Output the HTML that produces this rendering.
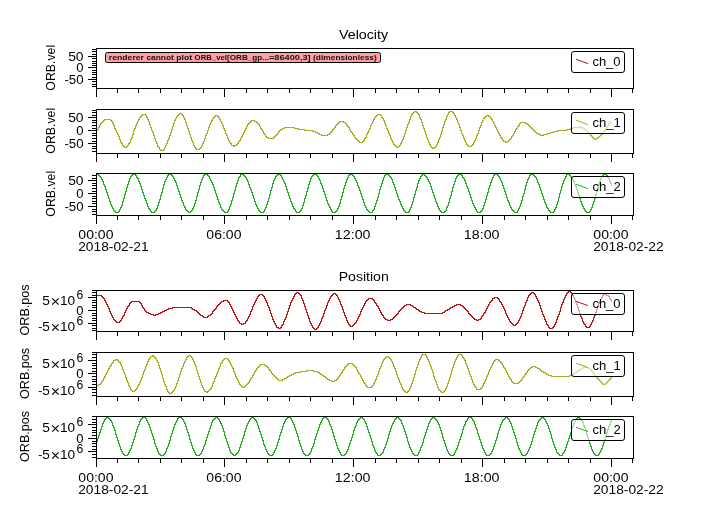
<!DOCTYPE html>
<html><head><meta charset="utf-8"><style>
html,body{margin:0;padding:0;background:#fff;width:717px;height:509px;overflow:hidden}
svg{display:block;font-family:"Liberation Sans",sans-serif;will-change:transform}
</style></head><body>
<svg width="717" height="509" viewBox="0 0 717 509" font-family="Liberation Sans, sans-serif" fill="#000">
<rect width="717" height="509" fill="#fff"/>
<text transform="translate(339.03 39.00) scale(1.1122 1)" font-size="12.8" >Velocity</text>
<text transform="translate(338.67 281.00) scale(1.1020 1)" font-size="12.8" >Position</text>
<rect x="96.5" y="48.5" width="537" height="40" fill="none" stroke="#000" stroke-width="1"/>
<path d="M92 86.5H96M92 84.5H96M92 81.5H96M88 79.5H96M92 77.5H96M92 74.5H96M92 72.5H96M92 70.5H96M88 67.5H96M92 65.5H96M92 63.5H96M92 61.5H96M92 58.5H96M88 56.5H96M92 54.5H96M92 51.5H96M92 49.5H96M96.5 89V97M117.5 89V93M138.5 89V93M160.5 89V93M181.5 89V93M203.5 89V93M224.5 89V97M246.5 89V93M267.5 89V93M289.5 89V93M310.5 89V93M332.5 89V93M353.5 89V97M375.5 89V93M396.5 89V93M418.5 89V93M439.5 89V93M461.5 89V93M482.5 89V97M504.5 89V93M525.5 89V93M547.5 89V93M568.5 89V93M590.5 89V93M611.5 89V97M632.5 89V93" stroke="#000" stroke-width="1" fill="none" shape-rendering="crispEdges"/>
<text transform="translate(68.14 60.90) scale(1.0932 1)" font-size="12.7" >50</text>
<text transform="translate(76.28 71.90) scale(1.0278 1)" font-size="12.7" >0</text>
<text transform="translate(64.40 83.90) scale(1.0421 1)" font-size="12.7" >-50</text>
<text transform="translate(55.20 67.90) rotate(-90) translate(-22.75 0) scale(0.9684 1)" font-size="12.7">ORB.vel</text>
<rect x="571.5" y="51.5" width="53" height="21" rx="2.5" fill="#fff" fill-opacity="0.55" stroke="#000" stroke-width="1"/>
<path d="M576 59.3L588 63.6" stroke="#b01818" stroke-width="1.0"/>
<text transform="translate(592.42 65.80) scale(1.0221 1)" font-size="12.7" >ch_0</text>
<rect x="96.5" y="109.5" width="537" height="44" fill="none" stroke="#000" stroke-width="1"/>
<path d="M92 151.5H96M92 148.5H96M92 146.5H96M88 143.5H96M92 141.5H96M92 138.5H96M92 135.5H96M92 133.5H96M88 130.5H96M92 128.5H96M92 125.5H96M92 122.5H96M92 120.5H96M88 117.5H96M92 115.5H96M92 112.5H96M92 110.5H96M96.5 154V162M117.5 154V158M138.5 154V158M160.5 154V158M181.5 154V158M203.5 154V158M224.5 154V162M246.5 154V158M267.5 154V158M289.5 154V158M310.5 154V158M332.5 154V158M353.5 154V162M375.5 154V158M396.5 154V158M418.5 154V158M439.5 154V158M461.5 154V158M482.5 154V162M504.5 154V158M525.5 154V158M547.5 154V158M568.5 154V158M590.5 154V158M611.5 154V162M632.5 154V158" stroke="#000" stroke-width="1" fill="none" shape-rendering="crispEdges"/>
<text transform="translate(68.14 121.90) scale(1.0932 1)" font-size="12.7" >50</text>
<text transform="translate(76.28 134.90) scale(1.0278 1)" font-size="12.7" >0</text>
<text transform="translate(64.40 147.90) scale(1.0421 1)" font-size="12.7" >-50</text>
<text transform="translate(55.20 130.90) rotate(-90) translate(-22.75 0) scale(0.9684 1)" font-size="12.7">ORB.vel</text>
<path d="M97.5 129V131M98.5 127V130M99.5 125V128M100.5 123V126M101.5 122V124M102.5 121V123M103.5 120V122M104.5 119V121M105.5 119V120M106.5 119V120M107.5 119V120M108.5 119V120M109.5 119V120M110.5 119V121M111.5 120V122M112.5 121V124M113.5 123V126M114.5 125V129M115.5 128V131M116.5 130V133M117.5 132V135M118.5 134V137M119.5 136V140M120.5 139V143M121.5 142V144M122.5 143V146M123.5 145V147M124.5 146V148M125.5 147V148M126.5 146V148M127.5 145V147M128.5 143V146M129.5 142V144M130.5 139V143M131.5 137V140M132.5 134V138M133.5 130V135M134.5 128V131M135.5 125V129M136.5 123V126M137.5 121V124M138.5 119V122M139.5 117V120M140.5 116V118M141.5 115V117M142.5 114V116M143.5 114V115M144.5 114V115M145.5 114V116M146.5 115V118M147.5 117V120M148.5 119V122M149.5 121V125M150.5 124V128M151.5 127V131M152.5 130V133M153.5 132V136M154.5 135V139M155.5 138V142M156.5 141V144M157.5 143V147M158.5 146V148M159.5 147V150M160.5 149V151M161.5 150V151M162.5 150V151M163.5 149V151M164.5 147V150M165.5 145V148M166.5 143V146M167.5 140V144M168.5 138V141M169.5 135V139M170.5 132V136M171.5 129V133M172.5 126V130M173.5 123V127M174.5 120V124M175.5 118V121M176.5 116V119M177.5 115V117M178.5 114V116M179.5 113V115M180.5 113V114M181.5 113V115M182.5 114V116M183.5 115V118M184.5 117V120M185.5 119V123M186.5 122V126M187.5 125V129M188.5 128V132M189.5 131V135M190.5 134V138M191.5 137V141M192.5 140V143M193.5 142V146M194.5 145V148M195.5 147V149M196.5 148V150M197.5 149V150M198.5 149V150M199.5 148V150M200.5 147V149M201.5 145V148M202.5 143V146M203.5 141V144M204.5 138V142M205.5 135V139M206.5 133V136M207.5 130V134M208.5 127V131M209.5 124V128M210.5 122V125M211.5 120V123M212.5 118V121M213.5 117V119M214.5 116V118M215.5 115V117M216.5 115V116M217.5 115V117M218.5 116V118M219.5 117V120M220.5 119V122M221.5 121V124M222.5 123V126M223.5 125V129M224.5 128V131M225.5 130V134M226.5 133V136M227.5 135V139M228.5 138V141M229.5 140V143M230.5 142V144M231.5 143V146M232.5 145V146M233.5 145V147M234.5 145V147M235.5 145V146M236.5 144V146M237.5 143V145M238.5 141V144M239.5 140V142M240.5 138V141M241.5 136V139M242.5 134V137M243.5 132V135M244.5 130V133M245.5 128V131M246.5 126V129M247.5 124V127M248.5 123V125M249.5 122V124M250.5 121V123M251.5 120V122M252.5 120V121M253.5 120V121M254.5 120V122M255.5 121V122M256.5 121V123M257.5 122V124M258.5 123V125M259.5 124V127M260.5 126V129M261.5 128V130M262.5 129V132M263.5 131V134M264.5 133V135M265.5 134V137M266.5 136V138M267.5 137V138M268.5 137V139M269.5 138V139M270.5 138V139M271.5 138V139M272.5 138V139M273.5 137V139M274.5 136V138M275.5 135V137M276.5 134V136M277.5 133V135M278.5 131V134M279.5 130V132M280.5 129V131M281.5 129V130M282.5 128V130M283.5 128V129M284.5 127V129M285.5 127V128M286.5 127V128M287.5 127V128M288.5 127V128M289.5 127V128M290.5 127V128M291.5 127V128M292.5 127V128M293.5 127V128M294.5 127V129M295.5 128V129M296.5 128V129M297.5 128V129M298.5 128V130M299.5 129V130M300.5 129V130M301.5 129V130M302.5 129V130M303.5 129V130M304.5 129V131M305.5 130V131M306.5 130V131M307.5 130V131M308.5 130V131M309.5 130V131M310.5 130V131M311.5 130V131M312.5 130V132M313.5 131V132M314.5 131V132M315.5 131V133M316.5 132V133M317.5 132V134M318.5 133V134M319.5 133V135M320.5 134V135M321.5 134V136M322.5 135V136M323.5 135V136M324.5 135V136M325.5 135V136M326.5 135V136M327.5 134V136M328.5 134V135M329.5 133V135M330.5 132V134M331.5 131V133M332.5 129V132M333.5 128V130M334.5 127V129M335.5 125V128M336.5 124V126M337.5 123V125M338.5 122V124M339.5 121V123M340.5 121V122M341.5 121V122M342.5 121V122M343.5 121V123M344.5 122V123M345.5 122V124M346.5 123V126M347.5 125V127M348.5 126V128M349.5 127V130M350.5 129V132M351.5 131V133M352.5 132V135M353.5 134V136M354.5 135V138M355.5 137V139M356.5 138V140M357.5 139V141M358.5 140V142M359.5 141V143M360.5 142V143M361.5 142V143M362.5 141V143M363.5 140V142M364.5 138V141M365.5 137V139M366.5 134V138M367.5 132V135M368.5 130V133M369.5 128V131M370.5 125V129M371.5 123V126M372.5 121V124M373.5 119V122M374.5 117V120M375.5 116V118M376.5 115V117M377.5 114V116M378.5 114V115M379.5 114V115M380.5 114V116M381.5 115V118M382.5 117V119M383.5 118V121M384.5 120V124M385.5 123V126M386.5 125V129M387.5 128V131M388.5 130V134M389.5 133V136M390.5 135V139M391.5 138V141M392.5 140V143M393.5 142V145M394.5 144V146M395.5 145V147M396.5 146V148M397.5 147V148M398.5 146V148M399.5 145V147M400.5 143V146M401.5 141V144M402.5 139V142M403.5 136V140M404.5 133V137M405.5 130V134M406.5 127V131M407.5 124V128M408.5 122V125M409.5 119V123M410.5 116V120M411.5 114V117M412.5 113V115M413.5 112V114M414.5 111V113M415.5 111V112M416.5 111V113M417.5 112V114M418.5 113V115M419.5 114V118M420.5 117V120M421.5 119V123M422.5 122V126M423.5 125V129M424.5 128V132M425.5 131V135M426.5 134V138M427.5 137V140M428.5 139V143M429.5 142V145M430.5 144V147M431.5 146V148M432.5 147V149M433.5 148V149M434.5 147V149M435.5 146V148M436.5 144V147M437.5 142V145M438.5 139V143M439.5 137V140M440.5 134V138M441.5 131V135M442.5 127V132M443.5 124V128M444.5 121V125M445.5 119V122M446.5 116V120M447.5 114V117M448.5 112V115M449.5 111V113M450.5 111V112M451.5 111V112M452.5 111V113M453.5 112V114M454.5 113V116M455.5 115V118M456.5 117V120M457.5 119V123M458.5 122V125M459.5 124V128M460.5 127V131M461.5 130V134M462.5 133V136M463.5 135V139M464.5 138V141M465.5 140V143M466.5 142V145M467.5 144V146M468.5 145V147M469.5 146V147M470.5 146V147M471.5 145V147M472.5 144V146M473.5 142V145M474.5 140V143M475.5 138V141M476.5 135V139M477.5 133V136M478.5 130V134M479.5 127V131M480.5 125V128M481.5 122V126M482.5 120V123M483.5 118V121M484.5 117V119M485.5 116V118M486.5 115V117M487.5 115V116M488.5 115V117M489.5 116V117M490.5 116V119M491.5 118V120M492.5 119V122M493.5 121V124M494.5 123V126M495.5 125V128M496.5 127V130M497.5 129V132M498.5 131V134M499.5 133V136M500.5 135V138M501.5 137V139M502.5 138V141M503.5 140V142M504.5 141V142M505.5 141V143M506.5 142V143M507.5 141V143M508.5 140V142M509.5 139V141M510.5 138V140M511.5 136V139M512.5 135V137M513.5 133V136M514.5 131V134M515.5 129V132M516.5 128V130M517.5 126V129M518.5 125V127M519.5 123V126M520.5 122V124M521.5 122V123M522.5 122V123M523.5 122V123M524.5 122V123M525.5 122V124M526.5 123V124M527.5 123V125M528.5 124V126M529.5 125V127M530.5 126V128M531.5 127V129M532.5 128V130M533.5 129V131M534.5 130V132M535.5 131V133M536.5 132V134M537.5 133V134M538.5 133V135M539.5 134V135M540.5 134V136M541.5 135V136M542.5 135V136M543.5 134V136M544.5 134V135M545.5 134V135M546.5 134V135M547.5 133V135M548.5 133V134M549.5 133V134M550.5 132V134M551.5 132V133M552.5 132V133M553.5 131V133M554.5 131V132M555.5 131V132M556.5 131V132M557.5 130V132M558.5 130V131M559.5 130V131M560.5 130V131M561.5 130V131M562.5 130V131M563.5 130V131M564.5 130V131M565.5 130V131M566.5 129V131M567.5 129V130M568.5 129V130M569.5 129V130M570.5 128V130M571.5 128V129M572.5 127V129M573.5 127V128" stroke="#aaaa1c" stroke-width="1" fill="none" shape-rendering="crispEdges"/>
<path d="M573.10 127.60 L582.00 127.30 L587.60 131.60 L594.50 139.20 L596.40 139.20 L602.60 133.80 L611.50 121.00" stroke="#aaaa1c" stroke-width="1.3" fill="none" stroke-linejoin="round"/>
<rect x="571.5" y="112.5" width="53" height="21" rx="2.5" fill="#fff" fill-opacity="0.55" stroke="#000" stroke-width="1"/>
<path d="M576 120.3L588 124.6" stroke="#aaaa1c" stroke-width="1.0"/>
<text transform="translate(592.41 126.80) scale(1.0270 1)" font-size="12.7" >ch_1</text>
<rect x="96.5" y="173.5" width="537" height="42" fill="none" stroke="#000" stroke-width="1"/>
<path d="M92 214.5H96M92 211.5H96M92 209.5H96M88 206.5H96M92 203.5H96M92 201.5H96M92 198.5H96M92 196.5H96M88 193.5H96M92 191.5H96M92 188.5H96M92 185.5H96M92 183.5H96M88 180.5H96M92 178.5H96M92 175.5H96M96.5 216V224M117.5 216V220M138.5 216V220M160.5 216V220M181.5 216V220M203.5 216V220M224.5 216V224M246.5 216V220M267.5 216V220M289.5 216V220M310.5 216V220M332.5 216V220M353.5 216V224M375.5 216V220M396.5 216V220M418.5 216V220M439.5 216V220M461.5 216V220M482.5 216V224M504.5 216V220M525.5 216V220M547.5 216V220M568.5 216V220M590.5 216V220M611.5 216V224M632.5 216V220" stroke="#000" stroke-width="1" fill="none" shape-rendering="crispEdges"/>
<text transform="translate(68.14 184.90) scale(1.0932 1)" font-size="12.7" >50</text>
<text transform="translate(76.28 197.90) scale(1.0278 1)" font-size="12.7" >0</text>
<text transform="translate(64.40 210.90) scale(1.0421 1)" font-size="12.7" >-50</text>
<text transform="translate(55.20 193.90) rotate(-90) translate(-22.75 0) scale(0.9684 1)" font-size="12.7">ORB.vel</text>
<path d="M97.5 174V175M98.5 174V176M99.5 175V177M100.5 176V178M101.5 177V180M102.5 179V182M103.5 181V185M104.5 184V187M105.5 186V190M106.5 189V193M107.5 192V196M108.5 195V199M109.5 198V202M110.5 201V205M111.5 204V207M112.5 206V209M113.5 208V211M114.5 210V212M115.5 211V213M116.5 212V213M117.5 212V213M118.5 211V213M119.5 209V212M120.5 207V210M121.5 205V208M122.5 201V206M123.5 198V202M124.5 194V199M125.5 191V195M126.5 187V192M127.5 184V188M128.5 181V185M129.5 178V182M130.5 176V179M131.5 175V177M132.5 174V176M133.5 174V175M134.5 174V175M135.5 174V176M136.5 175V178M137.5 177V179M138.5 178V182M139.5 181V184M140.5 183V187M141.5 186V190M142.5 189V193M143.5 192V196M144.5 195V199M145.5 198V201M146.5 200V204M147.5 203V207M148.5 206V209M149.5 208V210M150.5 209V212M151.5 211V213M152.5 212V213M153.5 212V213M154.5 211V213M155.5 210V212M156.5 208V211M157.5 205V209M158.5 202V206M159.5 199V203M160.5 195V200M161.5 192V196M162.5 188V193M163.5 184V189M164.5 181V185M165.5 179V182M166.5 177V180M167.5 175V178M168.5 174V176M169.5 174V175M170.5 174V175M171.5 174V176M172.5 175V177M173.5 176V179M174.5 178V181M175.5 180V183M176.5 182V186M177.5 185V189M178.5 188V192M179.5 191V195M180.5 194V198M181.5 197V201M182.5 200V203M183.5 202V206M184.5 205V208M185.5 207V210M186.5 209V211M187.5 210V212M188.5 211V213M189.5 212V213M190.5 211V213M191.5 210V212M192.5 208V211M193.5 206V209M194.5 203V207M195.5 200V204M196.5 196V201M197.5 192V197M198.5 189V193M199.5 185V190M200.5 182V186M201.5 179V183M202.5 177V180M203.5 175V178M204.5 174V176M205.5 174V175M206.5 174V175M207.5 174V176M208.5 175V177M209.5 176V179M210.5 178V181M211.5 180V183M212.5 182V185M213.5 184V188M214.5 187V191M215.5 190V194M216.5 193V197M217.5 196V200M218.5 199V203M219.5 202V205M220.5 204V208M221.5 207V210M222.5 209V211M223.5 210V212M224.5 211V213M225.5 212V213M226.5 212V213M227.5 211V213M228.5 209V212M229.5 206V210M230.5 204V207M231.5 200V205M232.5 197V201M233.5 193V198M234.5 190V194M235.5 186V191M236.5 183V187M237.5 180V184M238.5 177V181M239.5 176V178M240.5 174V177M241.5 174V175M242.5 174V175M243.5 174V176M244.5 175V177M245.5 176V178M246.5 177V180M247.5 179V182M248.5 181V185M249.5 184V188M250.5 187V190M251.5 189V193M252.5 192V196M253.5 195V199M254.5 198V202M255.5 201V205M256.5 204V207M257.5 206V209M258.5 208V211M259.5 210V212M260.5 211V213M261.5 212V213M262.5 212V213M263.5 211V213M264.5 209V212M265.5 207V210M266.5 204V208M267.5 201V205M268.5 198V202M269.5 194V199M270.5 190V195M271.5 187V191M272.5 183V188M273.5 180V184M274.5 178V181M275.5 176V179M276.5 175V177M277.5 174V176M278.5 174V175M279.5 174V175M280.5 174V176M281.5 175V178M282.5 177V180M283.5 179V182M284.5 181V184M285.5 183V187M286.5 186V190M287.5 189V193M288.5 192V196M289.5 195V199M290.5 198V202M291.5 201V204M292.5 203V207M293.5 206V209M294.5 208V210M295.5 209V212M296.5 211V213M297.5 212V213M298.5 212V213M299.5 211V213M300.5 210V212M301.5 208V211M302.5 205V209M303.5 202V206M304.5 198V203M305.5 195V199M306.5 191V196M307.5 188V192M308.5 184V189M309.5 181V185M310.5 178V182M311.5 176V179M312.5 175V177M313.5 174V176M314.5 174V175M315.5 174V175M316.5 174V176M317.5 175V177M318.5 176V179M319.5 178V181M320.5 180V184M321.5 183V186M322.5 185V189M323.5 188V192M324.5 191V195M325.5 194V198M326.5 197V201M327.5 200V204M328.5 203V206M329.5 205V208M330.5 207V210M331.5 209V212M332.5 211V213M333.5 212V213M334.5 212V213M335.5 211V213M336.5 210V212M337.5 208V211M338.5 206V209M339.5 203V207M340.5 199V204M341.5 196V200M342.5 192V197M343.5 188V193M344.5 185V189M345.5 182V186M346.5 179V183M347.5 177V180M348.5 175V178M349.5 174V176M350.5 174V175M351.5 174V175M352.5 174V176M353.5 175V177M354.5 176V179M355.5 178V181M356.5 180V183M357.5 182V186M358.5 185V188M359.5 187V191M360.5 190V194M361.5 193V197M362.5 196V200M363.5 199V203M364.5 202V206M365.5 205V208M366.5 207V210M367.5 209V211M368.5 210V212M369.5 211V213M370.5 212V213M371.5 212V213M372.5 210V213M373.5 209V211M374.5 206V210M375.5 203V207M376.5 200V204M377.5 197V201M378.5 193V198M379.5 189V194M380.5 186V190M381.5 183V187M382.5 180V184M383.5 177V181M384.5 175V178M385.5 174V176M386.5 174V175M387.5 174V175M388.5 174V176M389.5 175V177M390.5 176V178M391.5 177V180M392.5 179V183M393.5 182V185M394.5 184V188M395.5 187V191M396.5 190V194M397.5 193V197M398.5 196V200M399.5 199V202M400.5 201V205M401.5 204V207M402.5 206V209M403.5 208V211M404.5 210V212M405.5 211V213M406.5 212V213M407.5 212V213M408.5 211V213M409.5 209V212M410.5 207V210M411.5 204V208M412.5 201V205M413.5 197V202M414.5 194V198M415.5 190V195M416.5 187V191M417.5 183V188M418.5 180V184M419.5 178V181M420.5 176V179M421.5 175V177M422.5 174V176M423.5 174V175M424.5 174V176M425.5 175V177M426.5 176V178M427.5 177V180M428.5 179V182M429.5 181V184M430.5 183V187M431.5 186V190M432.5 189V193M433.5 192V196M434.5 195V199M435.5 198V202M436.5 201V204M437.5 203V207M438.5 206V209M439.5 208V211M440.5 210V212M441.5 211V213M442.5 212V213M443.5 212V213M444.5 211V213M445.5 210V212M446.5 207V211M447.5 205V208M448.5 202V206M449.5 198V203M450.5 195V199M451.5 191V196M452.5 187V192M453.5 184V188M454.5 181V185M455.5 178V182M456.5 176V179M457.5 175V177M458.5 174V176M459.5 174V175M460.5 174V175M461.5 174V176M462.5 175V178M463.5 177V179M464.5 178V181M465.5 180V184M466.5 183V187M467.5 186V189M468.5 188V192M469.5 191V195M470.5 194V198M471.5 197V201M472.5 200V204M473.5 203V206M474.5 205V208M475.5 207V210M476.5 209V212M477.5 211V213M478.5 212V213M479.5 212V213M480.5 211V213M481.5 210V212M482.5 208V211M483.5 205V209M484.5 202V206M485.5 199V203M486.5 195V200M487.5 192V196M488.5 188V193M489.5 185V189M490.5 182V186M491.5 179V183M492.5 177V180M493.5 175V178M494.5 174V176M495.5 174V175M496.5 174V175M497.5 174V176M498.5 175V177M499.5 176V179M500.5 178V181M501.5 180V183M502.5 182V186M503.5 185V189M504.5 188V192M505.5 191V195M506.5 194V198M507.5 197V201M508.5 200V203M509.5 202V206M510.5 205V208M511.5 207V210M512.5 209V211M513.5 210V212M514.5 211V213M515.5 212V213M516.5 212V213M517.5 210V213M518.5 208V211M519.5 206V209M520.5 203V207M521.5 200V204M522.5 196V201M523.5 193V197M524.5 189V194M525.5 185V190M526.5 182V186M527.5 179V183M528.5 177V180M529.5 175V178M530.5 174V176M531.5 174V175M532.5 174V175M533.5 174V176M534.5 175V177M535.5 176V178M536.5 177V180M537.5 179V183M538.5 182V185M539.5 184V188M540.5 187V191M541.5 190V194M542.5 193V197M543.5 196V200M544.5 199V203M545.5 202V205M546.5 204V208M547.5 207V209M548.5 208V211M549.5 210V212M550.5 211V213M551.5 212V213M552.5 212V213M553.5 211V213M554.5 209V212M555.5 207V210M556.5 204V208M557.5 201V205M558.5 197V202M559.5 193V198M560.5 190V194M561.5 186V191M562.5 183V187M563.5 180V184M564.5 178V181M565.5 176V179M566.5 174V177M567.5 174V175M568.5 174V175M569.5 174V176M570.5 175V177M571.5 176V178M572.5 177V180M573.5 179V182M574.5 181V185M575.5 184V187M576.5 186V190M577.5 189V193M578.5 192V196M579.5 195V199M580.5 198V202M581.5 201V205M582.5 204V207M583.5 206V209M584.5 208V211M585.5 210V212M586.5 211V213M587.5 212V213M588.5 212V213M589.5 211V213M590.5 209V212M591.5 207V210M592.5 204V208M593.5 201V205M594.5 198V202M595.5 194V199M596.5 191V195M597.5 187V192M598.5 184V188M599.5 181V185M600.5 178V182M601.5 176V179M602.5 175V177M603.5 174V176M604.5 174V175M605.5 174V175M606.5 174V176M607.5 175V178M608.5 177V179M609.5 178V182M610.5 181V184M611.5 183V186" stroke="#20aa20" stroke-width="1" fill="none" shape-rendering="crispEdges"/>
<rect x="571.5" y="176.5" width="53" height="21" rx="2.5" fill="#fff" fill-opacity="0.55" stroke="#000" stroke-width="1"/>
<path d="M576 184.3L588 188.6" stroke="#20aa20" stroke-width="1.0"/>
<text transform="translate(592.41 190.80) scale(1.0270 1)" font-size="12.7" >ch_2</text>
<rect x="96.5" y="290.5" width="537" height="41" fill="none" stroke="#000" stroke-width="1"/>
<path d="M92 330.5H96M92 328.5H96M92 325.5H96M88 323.5H96M92 320.5H96M92 318.5H96M92 315.5H96M92 313.5H96M88 310.5H96M92 307.5H96M92 305.5H96M92 302.5H96M92 300.5H96M88 297.5H96M92 295.5H96M92 292.5H96M92 290.5H96M96.5 332V340M117.5 332V336M138.5 332V336M160.5 332V336M181.5 332V336M203.5 332V336M224.5 332V340M246.5 332V336M267.5 332V336M289.5 332V336M310.5 332V336M332.5 332V336M353.5 332V340M375.5 332V336M396.5 332V336M418.5 332V336M439.5 332V336M461.5 332V336M482.5 332V340M504.5 332V336M525.5 332V336M547.5 332V336M568.5 332V336M590.5 332V336M611.5 332V340M632.5 332V336" stroke="#000" stroke-width="1" fill="none" shape-rendering="crispEdges"/>
<text transform="translate(59.97 304.80) scale(1.0762 1)" font-size="12.7" >10</text>
<path d="M52.20 298.30L58.60 304.60M52.20 304.60L58.60 298.30" stroke="#000" stroke-width="1.15" fill="none"/>
<text transform="translate(42.15 304.80) scale(1.0775 1)" font-size="12.7" >5</text>
<text transform="translate(76.39 298.60) scale(0.9979 1)" font-size="12.2" >6</text>
<text transform="translate(76.28 314.90) scale(1.0278 1)" font-size="12.7" >0</text>
<text transform="translate(59.97 330.80) scale(1.0762 1)" font-size="12.7" >10</text>
<path d="M52.20 324.30L58.60 330.60M52.20 330.60L58.60 324.30" stroke="#000" stroke-width="1.15" fill="none"/>
<text transform="translate(42.15 330.80) scale(1.0775 1)" font-size="12.7" >5</text>
<text transform="translate(38.35 330.80) scale(0.9642 1)" font-size="12.7" >-</text>
<text transform="translate(76.39 324.60) scale(0.9979 1)" font-size="12.2" >6</text>
<text transform="translate(28.90 309.90) rotate(-90) translate(-25.57 0) scale(0.9904 1)" font-size="12.7">ORB.pos</text>
<path d="M97.5 295V296M98.5 295V296M99.5 295V296M100.5 295V296M101.5 295V297M102.5 296V298M103.5 297V299M104.5 298V301M105.5 300V303M106.5 302V305M107.5 304V307M108.5 306V309M109.5 308V312M110.5 311V314M111.5 313V316M112.5 315V318M113.5 317V320M114.5 319V321M115.5 320V322M116.5 321V323M117.5 322V323M118.5 322V323M119.5 321V323M120.5 320V322M121.5 318V321M122.5 316V319M123.5 315V317M124.5 312V316M125.5 310V313M126.5 308V311M127.5 306V309M128.5 305V307M129.5 303V306M130.5 302V304M131.5 301V303M132.5 301V302M133.5 301V302M134.5 301V302M135.5 301V302M136.5 301V302M137.5 301V302M138.5 301V302M139.5 301V303M140.5 302V304M141.5 303V306M142.5 305V308M143.5 307V309M144.5 308V311M145.5 310V312M146.5 311V313M147.5 312V313M148.5 312V314M149.5 313V314M150.5 313V315M151.5 314V315M152.5 314V315M153.5 314V316M154.5 315V316M155.5 314V316M156.5 314V315M157.5 314V315M158.5 313V315M159.5 313V314M160.5 312V314M161.5 312V313M162.5 311V313M163.5 311V312M164.5 310V312M165.5 310V311M166.5 309V311M167.5 309V310M168.5 308V310M169.5 308V309M170.5 308V309M171.5 308V309M172.5 307V309M173.5 307V308M174.5 307V308M175.5 307V308M176.5 307V308M177.5 307V308M178.5 307V308M179.5 307V308M180.5 307V308M181.5 307V308M182.5 307V308M183.5 307V308M184.5 307V308M185.5 307V308M186.5 307V308M187.5 307V308M188.5 307V308M189.5 307V308M190.5 307V308M191.5 307V309M192.5 308V310M193.5 309V310M194.5 309V311M195.5 310V311M196.5 310V312M197.5 311V313M198.5 312V314M199.5 313V315M200.5 314V316M201.5 315V316M202.5 315V317M203.5 316V318M204.5 317V318M205.5 317V318M206.5 317V318M207.5 316V318M208.5 315V317M209.5 315V316M210.5 314V316M211.5 313V315M212.5 311V314M213.5 310V312M214.5 309V311M215.5 308V310M216.5 306V309M217.5 305V307M218.5 304V306M219.5 303V305M220.5 302V304M221.5 301V303M222.5 301V302M223.5 300V302M224.5 300V301M225.5 300V301M226.5 300V301M227.5 300V302M228.5 301V303M229.5 302V305M230.5 304V307M231.5 306V309M232.5 308V311M233.5 310V313M234.5 312V315M235.5 314V317M236.5 316V319M237.5 318V321M238.5 320V322M239.5 321V324M240.5 323V324M241.5 323V325M242.5 324V325M243.5 323V325M244.5 323V324M245.5 321V324M246.5 320V322M247.5 318V321M248.5 316V319M249.5 314V317M250.5 311V315M251.5 309V312M252.5 306V310M253.5 304V307M254.5 302V305M255.5 300V303M256.5 298V301M257.5 296V299M258.5 295V297M259.5 294V296M260.5 294V295M261.5 294V295M262.5 294V296M263.5 295V297M264.5 296V299M265.5 298V301M266.5 300V303M267.5 302V306M268.5 305V308M269.5 307V311M270.5 310V314M271.5 313V317M272.5 316V320M273.5 319V322M274.5 321V324M275.5 323V326M276.5 325V328M277.5 327V328M278.5 327V329M279.5 328V329M280.5 327V329M281.5 325V328M282.5 324V326M283.5 321V325M284.5 319V322M285.5 317V320M286.5 314V318M287.5 311V315M288.5 308V312M289.5 305V309M290.5 302V306M291.5 300V303M292.5 298V301M293.5 296V299M294.5 294V297M295.5 293V295M296.5 292V294M297.5 292V293M298.5 292V294M299.5 293V295M300.5 294V296M301.5 295V299M302.5 298V301M303.5 300V304M304.5 303V307M305.5 306V310M306.5 309V313M307.5 312V316M308.5 315V319M309.5 318V322M310.5 321V324M311.5 323V326M312.5 325V328M313.5 327V329M314.5 328V330M315.5 329V330M316.5 328V330M317.5 327V329M318.5 325V328M319.5 323V326M320.5 321V324M321.5 318V322M322.5 316V319M323.5 313V317M324.5 310V314M325.5 308V311M326.5 305V309M327.5 302V306M328.5 300V303M329.5 298V301M330.5 296V299M331.5 295V297M332.5 294V296M333.5 293V295M334.5 293V294M335.5 293V295M336.5 294V296M337.5 295V298M338.5 297V300M339.5 299V302M340.5 301V305M341.5 304V307M342.5 306V310M343.5 309V313M344.5 312V316M345.5 315V318M346.5 317V321M347.5 320V323M348.5 322V325M349.5 324V326M350.5 325V327M351.5 326V327M352.5 325V327M353.5 324V326M354.5 323V325M355.5 322V324M356.5 320V323M357.5 318V321M358.5 316V319M359.5 314V317M360.5 311V315M361.5 309V312M362.5 307V310M363.5 305V308M364.5 303V306M365.5 301V304M366.5 300V302M367.5 299V301M368.5 298V300M369.5 298V299M370.5 298V299M371.5 298V299M372.5 298V300M373.5 299V301M374.5 300V303M375.5 302V304M376.5 303V306M377.5 305V307M378.5 306V309M379.5 308V311M380.5 310V313M381.5 312V315M382.5 314V316M383.5 315V318M384.5 317V319M385.5 318V320M386.5 319V320M387.5 319V321M388.5 320V321M389.5 320V321M390.5 319V321M391.5 319V320M392.5 318V320M393.5 317V319M394.5 316V318M395.5 315V317M396.5 314V316M397.5 313V315M398.5 311V314M399.5 310V312M400.5 309V311M401.5 308V310M402.5 307V309M403.5 306V308M404.5 305V307M405.5 305V306M406.5 304V306M407.5 304V305M408.5 304V305M409.5 304V305M410.5 304V306M411.5 305V306M412.5 305V307M413.5 306V308M414.5 307V308M415.5 307V309M416.5 308V310M417.5 309V310M418.5 309V311M419.5 310V312M420.5 311V312M421.5 311V313M422.5 312V313M423.5 312V313M424.5 312V314M425.5 313V314M426.5 313V314M427.5 313V314M428.5 313V314M429.5 313V314M430.5 313V314M431.5 313V314M432.5 313V314M433.5 313V314M434.5 313V314M435.5 313V314M436.5 313V314M437.5 313V314M438.5 313V314M439.5 313V314M440.5 313V314M441.5 313V314M442.5 312V314M443.5 312V313M444.5 311V313M445.5 310V312M446.5 310V311M447.5 309V311M448.5 309V310M449.5 308V310M450.5 307V309M451.5 307V308M452.5 306V308M453.5 306V307M454.5 305V307M455.5 305V306M456.5 304V306M457.5 304V305M458.5 304V305M459.5 304V305M460.5 304V306M461.5 305V306M462.5 305V307M463.5 306V308M464.5 307V309M465.5 308V310M466.5 309V311M467.5 310V312M468.5 311V314M469.5 313V315M470.5 314V316M471.5 315V317M472.5 316V318M473.5 317V319M474.5 318V320M475.5 319V320M476.5 319V321M477.5 320V321M478.5 319V321M479.5 319V320M480.5 318V320M481.5 316V319M482.5 315V317M483.5 313V316M484.5 312V314M485.5 310V313M486.5 308V311M487.5 306V309M488.5 304V307M489.5 302V305M490.5 301V303M491.5 300V302M492.5 298V301M493.5 298V299M494.5 297V299M495.5 297V298M496.5 297V298M497.5 297V299M498.5 298V300M499.5 299V302M500.5 301V303M501.5 302V305M502.5 304V307M503.5 306V309M504.5 308V311M505.5 310V314M506.5 313V316M507.5 315V318M508.5 317V320M509.5 319V322M510.5 321V323M511.5 322V324M512.5 323V325M513.5 324V326M514.5 325V326M515.5 324V326M516.5 323V325M517.5 322V324M518.5 320V323M519.5 318V321M520.5 316V319M521.5 313V317M522.5 310V314M523.5 307V311M524.5 305V308M525.5 302V306M526.5 300V303M527.5 297V301M528.5 295V298M529.5 294V296M530.5 293V295M531.5 292V294M532.5 292V293M533.5 292V294M534.5 293V295M535.5 294V297M536.5 296V299M537.5 298V301M538.5 300V303M539.5 302V306M540.5 305V309M541.5 308V312M542.5 311V315M543.5 314V317M544.5 316V320M545.5 319V322M546.5 321V325M547.5 324V326M548.5 325V328M549.5 327V329M550.5 328V329M551.5 328V329M552.5 327V329M553.5 326V328M554.5 324V327M555.5 322V325M556.5 319V323M557.5 316V320M558.5 314V317M559.5 311V315M560.5 307V312M561.5 304V308M562.5 302V305M563.5 299V303M564.5 297V300M565.5 295V298M566.5 293V296M567.5 292V294M568.5 291V293M569.5 291V292M570.5 291V293M571.5 292V294M572.5 293V296M573.5 295V298M574.5 297V300M575.5 299V303M576.5 302V305M577.5 304V308M578.5 307V311M579.5 310V314M580.5 313V317M581.5 316V319M582.5 318V322M583.5 321V324M584.5 323V325M585.5 324V327M586.5 326V328M587.5 327V328M588.5 327V328M589.5 326V328M590.5 324V327M591.5 322V325M592.5 320V323M593.5 317V321M594.5 315V318M595.5 312V316M596.5 309V313M597.5 306V310M598.5 303V307M599.5 301V304M600.5 299V302M601.5 297V300M602.5 295V298M603.5 294V296M604.5 294V295M605.5 294V295M606.5 294V296M607.5 295V296M608.5 295V297M609.5 296V299M610.5 298V300M611.5 299V302" stroke="#b01818" stroke-width="1" fill="none" shape-rendering="crispEdges"/>
<rect x="571.5" y="293.5" width="53" height="21" rx="2.5" fill="#fff" fill-opacity="0.55" stroke="#000" stroke-width="1"/>
<path d="M576 301.3L588 305.6" stroke="#b01818" stroke-width="1.0"/>
<text transform="translate(592.42 307.80) scale(1.0221 1)" font-size="12.7" >ch_0</text>
<rect x="96.5" y="352.5" width="537" height="44" fill="none" stroke="#000" stroke-width="1"/>
<path d="M92 395.5H96M92 392.5H96M92 389.5H96M88 387.5H96M92 384.5H96M92 381.5H96M92 379.5H96M92 376.5H96M88 373.5H96M92 371.5H96M92 368.5H96M92 365.5H96M92 363.5H96M88 360.5H96M92 357.5H96M92 354.5H96M92 352.5H96M96.5 397V405M117.5 397V401M138.5 397V401M160.5 397V401M181.5 397V401M203.5 397V401M224.5 397V405M246.5 397V401M267.5 397V401M289.5 397V401M310.5 397V401M332.5 397V401M353.5 397V405M375.5 397V401M396.5 397V401M418.5 397V401M439.5 397V401M461.5 397V401M482.5 397V405M504.5 397V401M525.5 397V401M547.5 397V401M568.5 397V401M590.5 397V401M611.5 397V405M632.5 397V401" stroke="#000" stroke-width="1" fill="none" shape-rendering="crispEdges"/>
<text transform="translate(59.97 367.80) scale(1.0762 1)" font-size="12.7" >10</text>
<path d="M52.20 361.30L58.60 367.60M52.20 367.60L58.60 361.30" stroke="#000" stroke-width="1.15" fill="none"/>
<text transform="translate(42.15 367.80) scale(1.0775 1)" font-size="12.7" >5</text>
<text transform="translate(76.39 361.60) scale(0.9979 1)" font-size="12.2" >6</text>
<text transform="translate(76.28 377.90) scale(1.0278 1)" font-size="12.7" >0</text>
<text transform="translate(59.97 394.80) scale(1.0762 1)" font-size="12.7" >10</text>
<path d="M52.20 388.30L58.60 394.60M52.20 394.60L58.60 388.30" stroke="#000" stroke-width="1.15" fill="none"/>
<text transform="translate(42.15 394.80) scale(1.0775 1)" font-size="12.7" >5</text>
<text transform="translate(38.35 394.80) scale(0.9642 1)" font-size="12.7" >-</text>
<text transform="translate(76.39 388.60) scale(0.9979 1)" font-size="12.2" >6</text>
<text transform="translate(28.90 373.40) rotate(-90) translate(-25.57 0) scale(0.9904 1)" font-size="12.7">ORB.pos</text>
<path d="M97.5 385V386M98.5 384V386M99.5 384V385M100.5 383V385M101.5 381V384M102.5 380V382M103.5 378V381M104.5 376V379M105.5 374V377M106.5 372V375M107.5 370V373M108.5 368V371M109.5 366V369M110.5 365V367M111.5 363V366M112.5 362V364M113.5 360V363M114.5 360V361M115.5 359V361M116.5 359V360M117.5 359V361M118.5 360V362M119.5 361V363M120.5 362V365M121.5 364V367M122.5 366V370M123.5 369V373M124.5 372V375M125.5 374V378M126.5 377V381M127.5 380V383M128.5 382V386M129.5 385V388M130.5 387V390M131.5 389V391M132.5 390V392M133.5 391V392M134.5 390V392M135.5 389V391M136.5 388V390M137.5 386V389M138.5 384V387M139.5 382V385M140.5 380V383M141.5 377V381M142.5 374V378M143.5 371V375M144.5 369V372M145.5 366V370M146.5 364V367M147.5 361V365M148.5 359V362M149.5 358V360M150.5 356V359M151.5 356V357M152.5 355V357M153.5 355V357M154.5 356V358M155.5 357V359M156.5 358V361M157.5 360V363M158.5 362V366M159.5 365V369M160.5 368V372M161.5 371V375M162.5 374V379M163.5 378V382M164.5 381V385M165.5 384V387M166.5 386V390M167.5 389V392M168.5 391V393M169.5 392V394M170.5 393V394M171.5 392V394M172.5 391V393M173.5 390V392M174.5 388V391M175.5 386V389M176.5 383V387M177.5 380V384M178.5 377V381M179.5 374V378M180.5 371V375M181.5 368V372M182.5 366V369M183.5 363V367M184.5 361V364M185.5 359V362M186.5 357V360M187.5 356V358M188.5 355V357M189.5 355V356M190.5 355V357M191.5 356V358M192.5 357V360M193.5 359V362M194.5 361V365M195.5 364V367M196.5 366V371M197.5 370V374M198.5 373V377M199.5 376V380M200.5 379V383M201.5 382V386M202.5 385V388M203.5 387V390M204.5 389V392M205.5 391V392M206.5 391V393M207.5 391V393M208.5 390V392M209.5 389V391M210.5 388V390M211.5 386V389M212.5 383V387M213.5 381V384M214.5 378V382M215.5 376V379M216.5 373V377M217.5 371V374M218.5 368V372M219.5 366V369M220.5 363V367M221.5 362V364M222.5 360V363M223.5 359V361M224.5 358V360M225.5 358V359M226.5 358V359M227.5 358V360M228.5 359V361M229.5 360V363M230.5 362V365M231.5 364V367M232.5 366V369M233.5 368V372M234.5 371V374M235.5 373V377M236.5 376V379M237.5 378V381M238.5 380V383M239.5 382V385M240.5 384V386M241.5 385V387M242.5 386V388M243.5 387V388M244.5 386V388M245.5 385V387M246.5 384V386M247.5 383V385M248.5 382V384M249.5 380V383M250.5 378V381M251.5 377V379M252.5 375V378M253.5 373V376M254.5 371V374M255.5 370V372M256.5 368V371M257.5 367V369M258.5 366V368M259.5 365V367M260.5 364V366M261.5 364V365M262.5 364V365M263.5 364V365M264.5 364V366M265.5 365V366M266.5 365V367M267.5 366V368M268.5 367V370M269.5 369V371M270.5 370V372M271.5 371V374M272.5 373V375M273.5 374V376M274.5 375V377M275.5 376V378M276.5 377V379M277.5 378V380M278.5 379V381M279.5 380V381M280.5 380V381M281.5 380V381M282.5 379V381M283.5 379V380M284.5 378V380M285.5 378V379M286.5 377V379M287.5 376V378M288.5 376V377M289.5 375V377M290.5 375V376M291.5 374V376M292.5 374V375M293.5 373V375M294.5 373V374M295.5 372V374M296.5 372V373M297.5 372V373M298.5 372V373M299.5 372V373M300.5 371V373M301.5 371V372M302.5 371V372M303.5 371V372M304.5 371V372M305.5 371V372M306.5 370V372M307.5 370V371M308.5 370V371M309.5 370V371M310.5 370V371M311.5 370V371M312.5 370V371M313.5 370V372M314.5 371V372M315.5 371V372M316.5 371V372M317.5 371V373M318.5 372V373M319.5 372V374M320.5 373V375M321.5 374V375M322.5 374V376M323.5 375V377M324.5 376V377M325.5 376V378M326.5 377V379M327.5 378V380M328.5 379V380M329.5 379V381M330.5 380V381M331.5 380V382M332.5 381V382M333.5 381V382M334.5 380V382M335.5 380V381M336.5 379V381M337.5 378V380M338.5 376V379M339.5 375V377M340.5 373V376M341.5 372V374M342.5 370V373M343.5 369V371M344.5 367V370M345.5 366V368M346.5 365V367M347.5 364V366M348.5 363V365M349.5 363V364M350.5 363V364M351.5 363V364M352.5 363V365M353.5 364V366M354.5 365V367M355.5 366V368M356.5 367V370M357.5 369V372M358.5 371V374M359.5 373V375M360.5 374V377M361.5 376V379M362.5 378V381M363.5 380V383M364.5 382V384M365.5 383V386M366.5 385V387M367.5 386V388M368.5 387V388M369.5 387V388M370.5 387V388M371.5 386V388M372.5 385V387M373.5 383V386M374.5 381V384M375.5 379V382M376.5 376V380M377.5 374V377M378.5 371V375M379.5 368V372M380.5 366V369M381.5 363V367M382.5 361V364M383.5 359V362M384.5 358V360M385.5 357V359M386.5 356V358M387.5 356V357M388.5 356V358M389.5 357V359M390.5 358V360M391.5 359V362M392.5 361V364M393.5 363V367M394.5 366V369M395.5 368V372M396.5 371V375M397.5 374V378M398.5 377V380M399.5 379V383M400.5 382V385M401.5 384V388M402.5 387V390M403.5 389V391M404.5 390V392M405.5 391V393M406.5 392V393M407.5 391V393M408.5 390V392M409.5 388V391M410.5 386V389M411.5 383V387M412.5 380V384M413.5 377V381M414.5 374V378M415.5 370V375M416.5 367V371M417.5 364V368M418.5 361V365M419.5 359V362M420.5 357V360M421.5 355V358M422.5 354V356M423.5 354V355M424.5 354V355M425.5 354V356M426.5 355V358M427.5 357V360M428.5 359V362M429.5 361V365M430.5 364V367M431.5 366V370M432.5 369V373M433.5 372V377M434.5 376V380M435.5 379V382M436.5 381V385M437.5 384V388M438.5 387V390M439.5 389V391M440.5 390V392M441.5 391V393M442.5 392V393M443.5 391V393M444.5 390V392M445.5 388V391M446.5 386V389M447.5 383V387M448.5 380V384M449.5 377V381M450.5 374V378M451.5 370V375M452.5 367V371M453.5 364V368M454.5 361V365M455.5 359V362M456.5 357V360M457.5 355V358M458.5 354V356M459.5 354V355M460.5 354V355M461.5 354V356M462.5 355V358M463.5 357V359M464.5 358V361M465.5 360V364M466.5 363V366M467.5 365V369M468.5 368V372M469.5 371V375M470.5 374V377M471.5 376V380M472.5 379V383M473.5 382V385M474.5 384V387M475.5 386V388M476.5 387V390M477.5 389V390M478.5 389V390M479.5 389V390M480.5 388V390M481.5 387V389M482.5 385V388M483.5 383V386M484.5 381V384M485.5 379V382M486.5 376V380M487.5 374V377M488.5 371V375M489.5 369V372M490.5 367V370M491.5 365V368M492.5 363V366M493.5 361V364M494.5 360V362M495.5 359V361M496.5 359V360M497.5 359V360M498.5 359V361M499.5 360V362M500.5 361V363M501.5 362V364M502.5 363V366M503.5 365V368M504.5 367V369M505.5 368V371M506.5 370V373M507.5 372V375M508.5 374V377M509.5 376V379M510.5 378V380M511.5 379V382M512.5 381V383M513.5 382V384M514.5 383V384M515.5 383V384M516.5 383V384M517.5 383V384M518.5 382V384M519.5 381V383M520.5 380V382M521.5 379V381M522.5 377V380M523.5 376V378M524.5 374V377M525.5 373V375M526.5 372V374M527.5 370V373M528.5 369V371M529.5 368V370M530.5 367V369M531.5 367V368M532.5 366V368M533.5 366V367M534.5 366V367M535.5 366V368M536.5 367V368M537.5 367V369M538.5 368V369M539.5 368V370M540.5 369V371M541.5 370V372M542.5 371V372M543.5 371V373M544.5 372V373M545.5 372V374M546.5 373V375M547.5 374V375M548.5 374V376M549.5 375V376M550.5 375V376M551.5 375V377M552.5 376V377M553.5 376V377M554.5 376V377M555.5 376V377M556.5 376V377M557.5 376V377M558.5 376V377M559.5 376V377M560.5 376V377M561.5 376V377M562.5 376V377M563.5 376V377M564.5 376V377M565.5 376V377M566.5 376V377M567.5 376V377M568.5 376V377M569.5 375V377M570.5 375V376M571.5 375V376" stroke="#aaaa1c" stroke-width="1" fill="none" shape-rendering="crispEdges"/>
<path d="M571.50 375.40 L579.90 370.00 L585.10 366.80 L590.30 368.90 L595.60 376.20 L603.40 384.40 L605.50 384.10 L611.80 377.30" stroke="#aaaa1c" stroke-width="1.3" fill="none" stroke-linejoin="round"/>
<rect x="571.5" y="355.5" width="53" height="21" rx="2.5" fill="#fff" fill-opacity="0.55" stroke="#000" stroke-width="1"/>
<path d="M576 363.3L588 367.6" stroke="#aaaa1c" stroke-width="1.0"/>
<text transform="translate(592.41 369.80) scale(1.0270 1)" font-size="12.7" >ch_1</text>
<rect x="96.5" y="416.5" width="537" height="42" fill="none" stroke="#000" stroke-width="1"/>
<path d="M92 457.5H96M92 454.5H96M88 451.5H96M92 449.5H96M92 446.5H96M92 443.5H96M92 441.5H96M88 438.5H96M92 435.5H96M92 432.5H96M92 430.5H96M92 427.5H96M88 424.5H96M92 422.5H96M92 419.5H96M92 416.5H96M96.5 459V467M117.5 459V463M138.5 459V463M160.5 459V463M181.5 459V463M203.5 459V463M224.5 459V467M246.5 459V463M267.5 459V463M289.5 459V463M310.5 459V463M332.5 459V463M353.5 459V467M375.5 459V463M396.5 459V463M418.5 459V463M439.5 459V463M461.5 459V463M482.5 459V467M504.5 459V463M525.5 459V463M547.5 459V463M568.5 459V463M590.5 459V463M611.5 459V467M632.5 459V463" stroke="#000" stroke-width="1" fill="none" shape-rendering="crispEdges"/>
<text transform="translate(59.97 431.80) scale(1.0762 1)" font-size="12.7" >10</text>
<path d="M52.20 425.30L58.60 431.60M52.20 431.60L58.60 425.30" stroke="#000" stroke-width="1.15" fill="none"/>
<text transform="translate(42.15 431.80) scale(1.0775 1)" font-size="12.7" >5</text>
<text transform="translate(76.39 425.60) scale(0.9979 1)" font-size="12.2" >6</text>
<text transform="translate(76.28 442.90) scale(1.0278 1)" font-size="12.7" >0</text>
<text transform="translate(59.97 458.80) scale(1.0762 1)" font-size="12.7" >10</text>
<path d="M52.20 452.30L58.60 458.60M52.20 458.60L58.60 452.30" stroke="#000" stroke-width="1.15" fill="none"/>
<text transform="translate(42.15 458.80) scale(1.0775 1)" font-size="12.7" >5</text>
<text transform="translate(38.35 458.80) scale(0.9642 1)" font-size="12.7" >-</text>
<text transform="translate(76.39 452.60) scale(0.9979 1)" font-size="12.2" >6</text>
<text transform="translate(28.90 436.40) rotate(-90) translate(-25.57 0) scale(0.9904 1)" font-size="12.7">ORB.pos</text>
<path d="M97.5 438V442M98.5 435V439M99.5 432V436M100.5 429V433M101.5 426V430M102.5 423V427M103.5 421V424M104.5 419V422M105.5 418V420M106.5 417V419M107.5 417V418M108.5 417V419M109.5 418V420M110.5 419V421M111.5 420V423M112.5 422V426M113.5 425V428M114.5 427V431M115.5 430V435M116.5 434V438M117.5 437V441M118.5 440V444M119.5 443V447M120.5 446V450M121.5 449V452M122.5 451V454M123.5 453V455M124.5 454V456M125.5 455V456M126.5 455V456M127.5 454V456M128.5 452V455M129.5 450V453M130.5 448V451M131.5 445V449M132.5 442V446M133.5 439V443M134.5 436V440M135.5 432V437M136.5 429V433M137.5 426V430M138.5 424V427M139.5 421V425M140.5 419V422M141.5 418V420M142.5 417V419M143.5 417V418M144.5 417V418M145.5 417V419M146.5 418V421M147.5 420V423M148.5 422V425M149.5 424V428M150.5 427V431M151.5 430V434M152.5 433V437M153.5 436V440M154.5 439V444M155.5 443V447M156.5 446V449M157.5 448V452M158.5 451V454M159.5 453V455M160.5 454V456M161.5 455V456M162.5 455V456M163.5 454V456M164.5 453V455M165.5 451V454M166.5 448V452M167.5 446V449M168.5 443V447M169.5 440V444M170.5 436V441M171.5 433V437M172.5 430V434M173.5 427V431M174.5 424V428M175.5 422V425M176.5 420V423M177.5 418V421M178.5 417V419M179.5 417V418M180.5 417V418M181.5 417V419M182.5 418V420M183.5 419V422M184.5 421V424M185.5 423V427M186.5 426V430M187.5 429V433M188.5 432V436M189.5 435V440M190.5 439V443M191.5 442V446M192.5 445V449M193.5 448V451M194.5 450V453M195.5 452V455M196.5 454V456M197.5 455V456M198.5 455V456M199.5 454V456M200.5 453V455M201.5 451V454M202.5 449V452M203.5 446V450M204.5 444V447M205.5 440V445M206.5 437V441M207.5 434V438M208.5 431V435M209.5 428V432M210.5 425V429M211.5 422V426M212.5 420V423M213.5 419V421M214.5 418V420M215.5 417V419M216.5 417V418M217.5 417V419M218.5 418V420M219.5 419V422M220.5 421V424M221.5 423V426M222.5 425V429M223.5 428V432M224.5 431V436M225.5 435V439M226.5 438V442M227.5 441V445M228.5 444V448M229.5 447V451M230.5 450V453M231.5 452V454M232.5 453V455M233.5 454V456M234.5 455V456M235.5 454V456M236.5 453V455M237.5 452V454M238.5 450V453M239.5 447V451M240.5 444V448M241.5 441V445M242.5 438V442M243.5 435V439M244.5 431V436M245.5 428V432M246.5 425V429M247.5 423V426M248.5 421V424M249.5 419V422M250.5 418V420M251.5 417V419M252.5 417V418M253.5 417V419M254.5 418V420M255.5 419V421M256.5 420V423M257.5 422V426M258.5 425V429M259.5 428V432M260.5 431V435M261.5 434V438M262.5 437V441M263.5 440V445M264.5 444V447M265.5 446V450M266.5 449V452M267.5 451V454M268.5 453V455M269.5 454V456M270.5 455V456M271.5 455V456M272.5 454V456M273.5 452V455M274.5 450V453M275.5 448V451M276.5 445V449M277.5 442V446M278.5 439V443M279.5 435V440M280.5 432V436M281.5 429V433M282.5 426V430M283.5 423V427M284.5 421V424M285.5 419V422M286.5 418V420M287.5 417V419M288.5 417V418M289.5 417V418M290.5 417V419M291.5 418V421M292.5 420V423M293.5 422V425M294.5 424V428M295.5 427V431M296.5 430V434M297.5 433V437M298.5 436V441M299.5 440V444M300.5 443V447M301.5 446V450M302.5 449V452M303.5 451V454M304.5 453V455M305.5 454V456M306.5 455V456M307.5 455V456M308.5 454V456M309.5 453V455M310.5 451V454M311.5 448V452M312.5 446V449M313.5 443V447M314.5 439V444M315.5 436V440M316.5 433V437M317.5 430V434M318.5 427V431M319.5 424V428M320.5 422V425M321.5 420V423M322.5 418V421M323.5 417V419M324.5 417V418M325.5 417V418M326.5 417V419M327.5 418V420M328.5 419V422M329.5 421V425M330.5 424V427M331.5 426V430M332.5 429V433M333.5 432V437M334.5 436V440M335.5 439V443M336.5 442V446M337.5 445V449M338.5 448V451M339.5 450V453M340.5 452V455M341.5 454V456M342.5 455V456M343.5 455V456M344.5 454V456M345.5 453V455M346.5 451V454M347.5 449V452M348.5 446V450M349.5 443V447M350.5 440V444M351.5 437V441M352.5 434V438M353.5 430V435M354.5 427V431M355.5 425V428M356.5 422V426M357.5 420V423M358.5 419V421M359.5 418V420M360.5 417V419M361.5 417V418M362.5 417V419M363.5 418V420M364.5 419V422M365.5 421V424M366.5 423V427M367.5 426V430M368.5 429V433M369.5 432V436M370.5 435V439M371.5 438V442M372.5 441V446M373.5 445V448M374.5 447V451M375.5 450V453M376.5 452V454M377.5 453V456M378.5 455V456M379.5 455V456M380.5 454V456M381.5 453V455M382.5 452V454M383.5 449V453M384.5 447V450M385.5 444V448M386.5 441V445M387.5 438V442M388.5 434V439M389.5 431V435M390.5 428V432M391.5 425V429M392.5 423V426M393.5 421V424M394.5 419V422M395.5 418V420M396.5 417V419M397.5 417V418M398.5 417V419M399.5 418V420M400.5 419V421M401.5 420V424M402.5 423V426M403.5 425V429M404.5 428V432M405.5 431V435M406.5 434V438M407.5 437V442M408.5 441V445M409.5 444V448M410.5 447V450M411.5 449V452M412.5 451V454M413.5 453V455M414.5 454V456M415.5 455V456M416.5 455V456M417.5 454V456M418.5 452V455M419.5 450V453M420.5 447V451M421.5 445V448M422.5 442V446M423.5 438V443M424.5 435V439M425.5 432V436M426.5 429V433M427.5 426V430M428.5 423V427M429.5 421V424M430.5 419V422M431.5 418V420M432.5 417V419M433.5 417V418M434.5 417V419M435.5 418V420M436.5 419V421M437.5 420V423M438.5 422V425M439.5 424V428M440.5 427V431M441.5 430V434M442.5 433V438M443.5 437V441M444.5 440V444M445.5 443V447M446.5 446V450M447.5 449V452M448.5 451V454M449.5 453V455M450.5 454V456M451.5 455V456M452.5 455V456M453.5 454V456M454.5 452V455M455.5 450V453M456.5 448V451M457.5 445V449M458.5 442V446M459.5 439V443M460.5 436V440M461.5 433V437M462.5 429V434M463.5 426V430M464.5 424V427M465.5 421V425M466.5 420V422M467.5 418V421M468.5 417V419M469.5 417V418M470.5 417V418M471.5 417V419M472.5 418V421M473.5 420V422M474.5 421V425M475.5 424V428M476.5 427V430M477.5 429V434M478.5 433V437M479.5 436V440M480.5 439V443M481.5 442V446M482.5 445V449M483.5 448V451M484.5 450V453M485.5 452V455M486.5 454V456M487.5 455V456M488.5 455V456M489.5 454V456M490.5 453V455M491.5 451V454M492.5 449V452M493.5 446V450M494.5 443V447M495.5 440V444M496.5 437V441M497.5 433V438M498.5 430V434M499.5 427V431M500.5 424V428M501.5 422V425M502.5 420V423M503.5 419V421M504.5 418V420M505.5 417V419M506.5 417V418M507.5 417V419M508.5 418V420M509.5 419V422M510.5 421V424M511.5 423V427M512.5 426V430M513.5 429V433M514.5 432V436M515.5 435V439M516.5 438V443M517.5 442V446M518.5 445V449M519.5 448V451M520.5 450V453M521.5 452V455M522.5 454V456M523.5 455V456M524.5 455V456M525.5 454V456M526.5 453V455M527.5 451V454M528.5 449V452M529.5 447V450M530.5 444V448M531.5 441V445M532.5 437V442M533.5 434V438M534.5 431V435M535.5 428V432M536.5 425V429M537.5 422V426M538.5 420V423M539.5 419V421M540.5 418V420M541.5 417V419M542.5 417V418M543.5 417V419M544.5 418V420M545.5 419V422M546.5 421V424M547.5 423V426M548.5 425V429M549.5 428V432M550.5 431V435M551.5 434V439M552.5 438V442M553.5 441V445M554.5 444V448M555.5 447V450M556.5 449V453M557.5 452V454M558.5 453V455M559.5 454V456M560.5 455V456M561.5 455V456M562.5 453V456M563.5 452V454M564.5 450V453M565.5 447V451M566.5 444V448M567.5 441V445M568.5 438V442M569.5 435V439M570.5 432V436M571.5 428V433M572.5 426V429M573.5 423V427M574.5 421V424M575.5 419V422M576.5 418V420M577.5 417V419M578.5 417V418M579.5 417V419M580.5 418V420M581.5 419V421M582.5 420V423M583.5 422V426M584.5 425V428M585.5 427V431M586.5 430V435M587.5 434V438M588.5 437V441M589.5 440V444M590.5 443V447M591.5 446V450M592.5 449V452M593.5 451V454M594.5 453V455M595.5 454V456M596.5 455V456M597.5 455V456M598.5 454V456M599.5 452V455M600.5 450V453M601.5 448V451M602.5 445V449M603.5 442V446M604.5 439V443M605.5 436V440M606.5 432V437M607.5 429V433M608.5 426V430M609.5 424V427M610.5 421V425M611.5 420V422" stroke="#20aa20" stroke-width="1" fill="none" shape-rendering="crispEdges"/>
<rect x="571.5" y="419.5" width="53" height="21" rx="2.5" fill="#fff" fill-opacity="0.55" stroke="#000" stroke-width="1"/>
<path d="M576 427.3L588 431.6" stroke="#20aa20" stroke-width="1.0"/>
<text transform="translate(592.41 433.80) scale(1.0270 1)" font-size="12.7" >ch_2</text>
<text transform="translate(78.34 239.00) scale(1.1063 1)" font-size="12.7" >00:00</text>
<text transform="translate(78.21 251.00) scale(1.0834 1)" font-size="12.7" >2018-02-21</text>
<text transform="translate(206.34 239.00) scale(1.1063 1)" font-size="12.7" >06:00</text>
<text transform="translate(334.83 239.00) scale(1.1225 1)" font-size="12.7" >12:00</text>
<text transform="translate(463.83 239.00) scale(1.1225 1)" font-size="12.7" >18:00</text>
<text transform="translate(593.34 239.00) scale(1.1063 1)" font-size="12.7" >00:00</text>
<text transform="translate(593.21 251.00) scale(1.0834 1)" font-size="12.7" >2018-02-22</text>
<text transform="translate(78.34 482.00) scale(1.1063 1)" font-size="12.7" >00:00</text>
<text transform="translate(78.21 494.00) scale(1.0834 1)" font-size="12.7" >2018-02-21</text>
<text transform="translate(206.34 482.00) scale(1.1063 1)" font-size="12.7" >06:00</text>
<text transform="translate(334.83 482.00) scale(1.1225 1)" font-size="12.7" >12:00</text>
<text transform="translate(463.83 482.00) scale(1.1225 1)" font-size="12.7" >18:00</text>
<text transform="translate(593.34 482.00) scale(1.1063 1)" font-size="12.7" >00:00</text>
<text transform="translate(593.21 494.00) scale(1.0834 1)" font-size="12.7" >2018-02-22</text>
<rect x="105.5" y="52.5" width="275" height="10" rx="2" fill="#ffa0a0" stroke="#000" stroke-width="1"/>
<text x="108.80" y="60.2" font-size="7.9" font-weight="bold" fill="#111" textLength="35.15" lengthAdjust="spacingAndGlyphs">renderer</text>
<text x="146.42" y="60.2" font-size="7.9" font-weight="bold" fill="#111" textLength="27.42" lengthAdjust="spacingAndGlyphs">cannot</text>
<text x="176.32" y="60.2" font-size="7.9" font-weight="bold" fill="#111" textLength="15.82" lengthAdjust="spacingAndGlyphs">plot</text>
<text x="194.61" y="60.2" font-size="7.9" font-weight="bold" fill="#111" textLength="32.39" lengthAdjust="spacingAndGlyphs">ORB_vel</text>
<text x="227.00" y="60.2" font-size="7.9" font-weight="bold" fill="#111" textLength="42.02" lengthAdjust="spacingAndGlyphs">[ORB_gp...</text>
<text x="269.01" y="60.2" font-size="7.9" font-weight="bold" fill="#111" textLength="41.60" lengthAdjust="spacingAndGlyphs">=86400,3]</text>
<text x="313.09" y="60.2" font-size="7.9" font-weight="bold" fill="#111" textLength="63.71" lengthAdjust="spacingAndGlyphs">(dimensionless)</text>
</svg>
</body></html>
